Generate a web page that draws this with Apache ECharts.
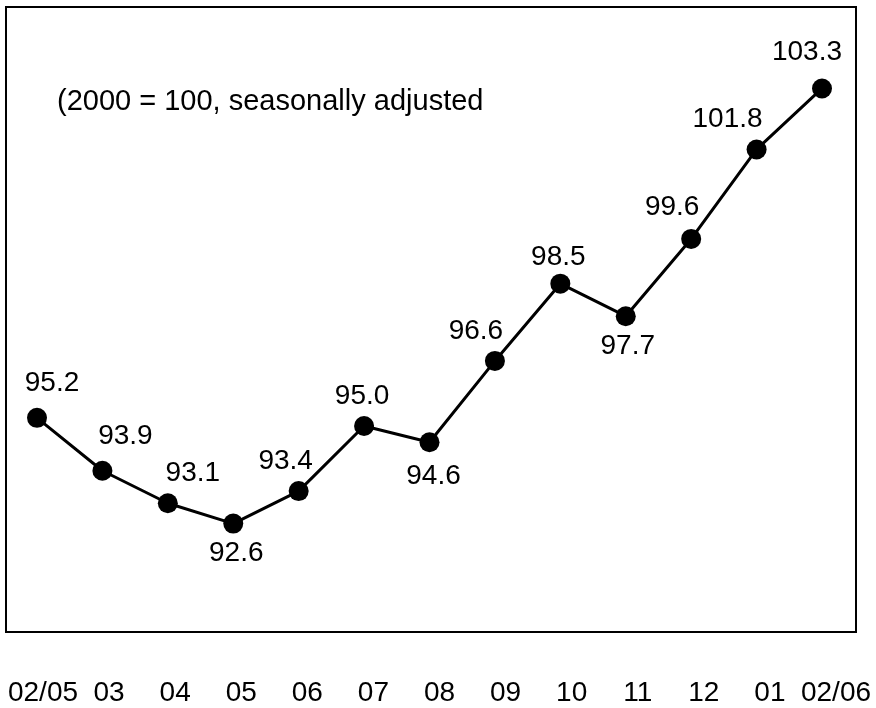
<!DOCTYPE html>
<html>
<head>
<meta charset="utf-8">
<script src="https://cdn.jsdelivr.net/npm/echarts@6/dist/echarts.min.js"></script>
<style>
  html, body { margin: 0; padding: 0; background: #fff; }
  #main { width: 876px; height: 708px; }
</style>
</head>
<body>
<div id="main"></div>
<script>
var myChart = echarts.init(document.getElementById('main'));

// months, Feb 2005 .. Feb 2006
const months = ['02/05', '03', '04', '05', '06', '07', '08', '09', '10', '11', '12', '01', '02/06'];
// index values (2000 = 100)
const values = [95.2, 93.9, 93.1, 92.6, 93.4, 95.0, 94.6, 96.6, 98.5, 97.7, 99.6, 101.8, 103.3];
const note = '(2000 = 100, seasonally adjusted';

// where each value label sits around its point: [position, dx, dy]
const labelPlace = [
    ['top', 15, -5], ['top', 23, -4], ['top', 25, 0], ['bottom', 3, 0],
    ['top', -13, 0], ['top', -2, 0], ['bottom', 4, 4], ['top', -19, 0],
    ['top', -2, 4], ['bottom', 2, 0], ['top', -19, -2], ['top', -29, 0],
    ['top', -15, -6]
];

const font = 'Liberation Sans, Arial, sans-serif';

var option = {
    animation: false,
    backgroundColor: '#fff',
    textStyle: { fontFamily: font },
    grid: [
        { left: 37, right: 54, top: 60, height: 488 },   // data
        { left: 43, right: 40, top: 600, height: 72 }    // month labels
    ],
    xAxis: [
        {
            type: 'category', gridIndex: 0, data: months, boundaryGap: false,
            axisLine: { show: false }, axisTick: { show: false },
            axisLabel: { show: false }, splitLine: { show: false }
        },
        {
            type: 'category', gridIndex: 1, data: months, boundaryGap: false,
            axisLine: { show: false }, axisTick: { show: false },
            splitLine: { show: false },
            axisLabel: {
                show: true, interval: 0, margin: 7,
                fontSize: 28, color: '#000', fontFamily: font
            }
        }
    ],
    yAxis: [
        {
            type: 'value', gridIndex: 0, min: 92, max: 104,
            axisLine: { show: false }, axisTick: { show: false },
            axisLabel: { show: false }, splitLine: { show: false }
        },
        {
            type: 'value', gridIndex: 1,
            axisLine: { show: false }, axisTick: { show: false },
            axisLabel: { show: false }, splitLine: { show: false }
        }
    ],
    graphic: [
        {
            type: 'rect',
            shape: { x: 6, y: 7, width: 850, height: 625 },
            style: { fill: 'none', stroke: '#000', lineWidth: 2 }
        },
        {
            type: 'text',
            x: 57, y: 102,
            style: {
                text: note, fill: '#000',
                font: '29px ' + font,
                textAlign: 'left', textVerticalAlign: 'middle'
            }
        }
    ],
    series: [
        {
            type: 'line',
            xAxisIndex: 0, yAxisIndex: 0,
            data: values.map((v, i) => ({
                value: v,
                label: {
                    position: labelPlace[i][0],
                    offset: [labelPlace[i][1], labelPlace[i][2]]
                }
            })),
            symbol: 'circle',
            symbolSize: 20,
            lineStyle: { color: '#000', width: 3 },
            itemStyle: { color: '#000' },
            label: {
                show: true,
                distance: 6,
                fontSize: 28,
                color: '#000',
                fontFamily: font,
                formatter: p => p.value.toFixed(1)
            }
        }
    ]
};

myChart.setOption(option);
</script>
</body>
</html>
